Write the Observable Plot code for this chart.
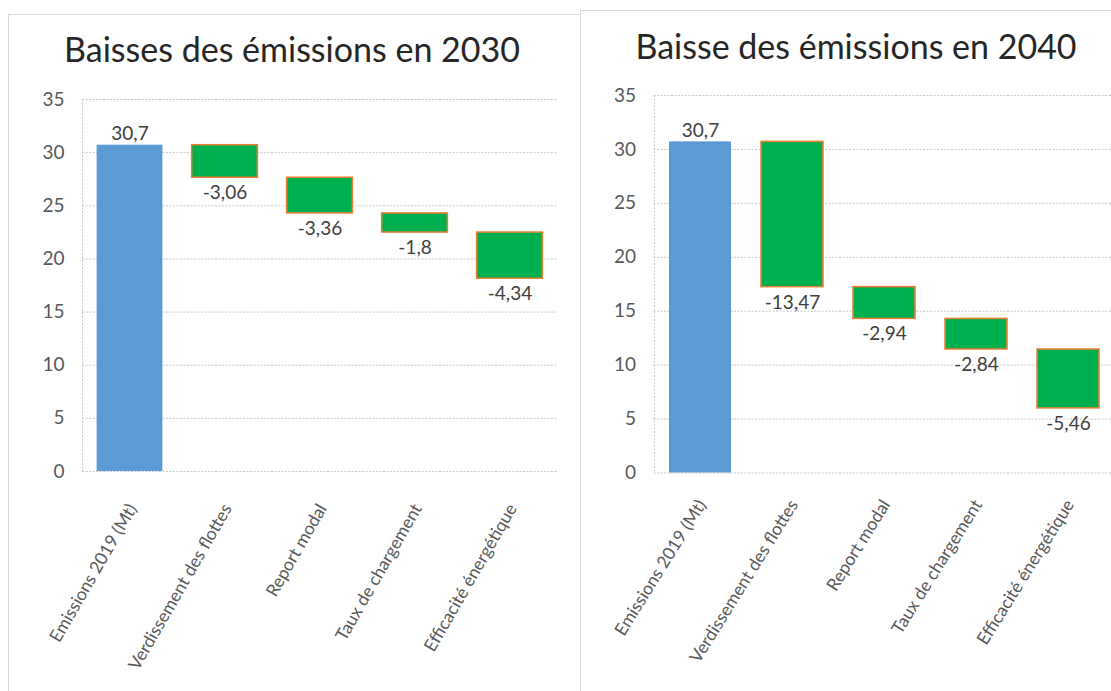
<!DOCTYPE html>
<html><head><meta charset="utf-8">
<script src="https://cdn.jsdelivr.net/npm/d3@7"></script>
<script src="https://cdn.jsdelivr.net/npm/@observablehq/plot@0.6"></script>
<style>
body{margin:0;background:#fff;overflow:hidden;}
#root{position:relative;width:1111px;height:691px;overflow:hidden;font-family:Lato,sans-serif;background:#fff;}
.panel{position:absolute;border-left:1px solid #d9d9d9;border-top:1px solid #d9d9d9;}
.title{position:absolute;font-size:34px;line-height:40px;color:#262626;white-space:nowrap;transform:translateX(-50%);}
.layer{position:absolute;top:0;}
</style></head><body><div id="root"></div>
<script>
const categories = ["Emissions 2019 (Mt)", "Verdissement des flottes", "Report modal", "Taux de chargement", "Efficacité énergétique"];
const start2019 = 30.7;
const changes2030 = [-3.06, -3.36, -1.8, -4.34];
const changes2040 = [-13.47, -2.94, -2.84, -5.46];
const yTicks = [0, 5, 10, 15, 20, 25, 30, 35];
const titles = ["Baisses des émissions en 2030", "Baisse des émissions en 2040"];

const root = document.getElementById("root");
const fmt = v => String(v).replace(".", ",");

function rows(changes) {
  const out = [{cat: categories[0], y1: 0, y2: start2019, kind: "total", label: fmt(start2019)}];
  let level = start2019;
  changes.forEach((c, i) => {
    const next = Math.round((level + c) * 100) / 100;
    out.push({cat: categories[i + 1], y1: level, y2: next, kind: "step", label: fmt(c)});
    level = next;
  });
  return out;
}

function panel(left, top, width, height) {
  const d = document.createElement("div");
  d.className = "panel";
  Object.assign(d.style, {left: left + "px", top: top + "px", width: width + "px", height: height + "px"});
  root.appendChild(d);
}
function title(text, cx, topPx) {
  const d = document.createElement("div");
  d.className = "title";
  d.textContent = text;
  d.style.left = cx + "px";
  d.style.top = topPx + "px";
  root.appendChild(d);
}

function chart(cfg) {
  const data = rows(cfg.changes);
  const step = (cfg.width - cfg.ml - cfg.mr) / categories.length;
  const p = Plot.plot({
    width: cfg.width, height: 691,
    marginLeft: cfg.ml, marginRight: cfg.mr, marginTop: cfg.mt, marginBottom: cfg.mb,
    style: {fontFamily: "Lato, sans-serif", fontSize: "19px", color: "#595959", background: "transparent", overflow: "visible"},
    x: {type: "band", domain: categories, padding: 0, label: null},
    y: {domain: [0, 35], label: null},
    marks: [
      Plot.gridY(yTicks, {stroke: "#c6c6c6", strokeOpacity: 1, strokeDasharray: "2,1.5"}),
      Plot.ruleX([categories[0]], {dx: -step / 2, stroke: "#c6c6c6", strokeDasharray: "2,1.5"}),
      Plot.axisY(yTicks, {tickSize: 0, tickPadding: 18, fontSize: 19, label: null}),
      Plot.axisX(categories, {tickSize: 0, tickPadding: cfg.tp, dx: cfg.ldx, tickRotate: cfg.rot, textAnchor: "end", lineAnchor: "middle", fontSize: 17.5, label: null}),
      Plot.barY(data, {x: "cat", y1: "y1", y2: "y2", insetLeft: cfg.inset, insetRight: cfg.inset,
        fill: d => d.kind === "total" ? "#5B9BD5" : "#00B050",
        stroke: d => d.kind === "total" ? "none" : "#ED7D31", strokeWidth: 1.5}),
      Plot.text(data.filter(d => d.kind === "total"), {x: "cat", y: "y2", text: "label", lineAnchor: "bottom", dy: -5, fill: "#404040", fontSize: 19}),
      Plot.text(data.filter(d => d.kind === "step"), {x: "cat", y: "y2", text: "label", lineAnchor: "top", dy: 8, fill: "#404040", fontSize: 19})
    ]
  });
  p.classList.add("layer");
  p.style.left = cfg.left + "px";
  p.style.position = "absolute";
  root.appendChild(p);
}

panel(8, 14, 570, 700);
panel(580, 10, 560, 700);
title(titles[0], 292, 29);
title(titles[1], 856, 26);

chart({changes: changes2030, left: 0, width: 578, ml: 82, mr: 21, mt: 99, mb: 220, inset: 14.6, tp: 34, ldx: 2.5, rot: -60});
chart({changes: changes2040, left: 580, width: 535, ml: 73.5, mr: 0, mt: 95, mb: 218.5, inset: 15, tp: 28.5, ldx: 1.5, rot: -58});
</script></body></html>
